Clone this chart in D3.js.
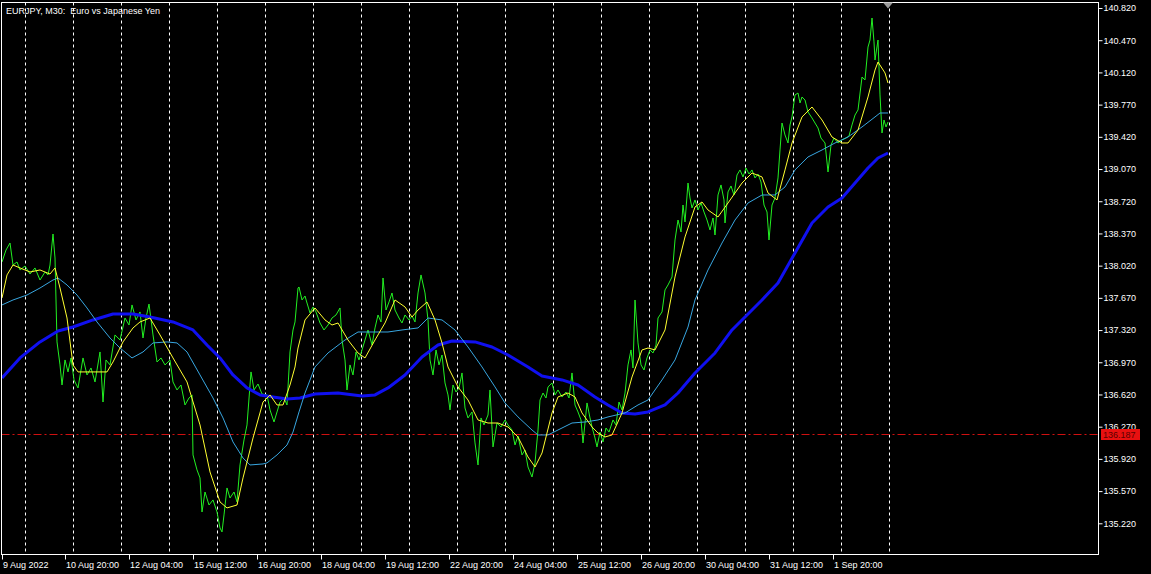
<!DOCTYPE html>
<html><head><meta charset="utf-8">
<script src="https://cdn.jsdelivr.net/npm/d3@7"></script>
<style>html,body{margin:0;padding:0;background:#000;overflow:hidden}</style>
</head><body><svg id="c" width="1151" height="574"></svg>
<script>
const title = "EURJPY, M30:  Euro vs Japanese Yen";
// bar index (M30 bars, 1 px each) and close price
const priceBars = [2,6,10,13,17,20,25,30,35,40,45,48,50,53,55,57,60,62,65,68,71,74,78,81,83,87,91,95,100,103,106,110,115,120,125,129,132,136,140,143,146,149,153,157,161,165,170,173,177,181,185,189,192,193,197,200,202,205,209,213,217,220,222,224,227,230,234,237,240,244,247,251,254,258,262,267,270,274,277,280,284,287,290,293,295,298,299,302,305,307,310,313,316,320,324,328,332,336,340,342,345,347,350,353,356,359,362,365,368,372,375,378,381,383,386,389,392,395,399,402,405,409,412,415,418,421,425,428,430,433,436,439,442,445,448,450,453,456,459,462,465,468,472,475,478,481,484,488,490,493,497,501,505,508,512,515,518,522,525,528,532,535,538,540,543,546,548,552,555,558,562,566,569,572,575,578,581,583,587,590,592,595,597,600,603,606,609,613,616,619,622,625,628,631,633,635,638,641,644,647,650,653,656,658,662,665,668,672,675,678,681,683,685,688,690,692,695,698,701,704,707,710,713,715,718,721,724,725,728,731,734,737,740,743,746,749,752,755,758,761,764,767,769,772,775,778,780,782,785,788,790,792,795,798,800,802,805,808,812,815,818,821,825,828,831,834,838,842,846,849,852,855,858,862,865,868,870,872,874,875,878,880,882,884,886,888];
const priceValues = [138.060,138.190,138.266,138.027,138.060,137.973,138.016,137.929,137.995,137.864,137.951,137.919,138.027,138.364,138.103,137.191,136.941,136.723,136.995,136.865,137.017,136.778,136.691,136.886,137.017,136.832,136.908,136.756,137.082,136.538,136.995,136.941,137.267,137.212,137.451,137.375,137.593,137.430,137.517,137.234,137.451,137.603,137.267,136.973,137.017,136.941,136.995,136.756,136.669,136.723,136.506,136.582,136.615,135.963,135.800,135.713,135.343,135.560,135.419,135.474,135.343,135.169,135.126,135.311,135.604,135.495,135.560,135.452,135.854,136.126,136.289,136.865,136.669,136.734,136.625,136.615,136.452,136.321,136.430,136.538,136.582,136.506,137.082,137.321,137.408,137.777,137.788,137.647,137.690,137.614,137.506,137.571,137.517,137.397,137.321,137.375,137.451,137.484,137.560,137.212,136.995,136.669,136.941,136.832,137.082,136.995,137.104,137.212,137.321,137.158,137.343,137.484,137.408,137.886,137.538,137.625,137.723,137.538,137.451,137.397,137.484,137.430,137.473,137.408,137.723,137.919,137.723,137.430,136.995,136.832,137.104,136.941,137.049,136.745,136.615,136.452,136.723,136.647,136.691,136.854,136.473,136.365,136.430,136.093,135.854,136.365,136.289,136.397,136.669,136.050,136.310,136.267,136.343,136.289,136.234,136.071,136.169,135.963,136.017,135.832,135.723,135.876,136.234,136.560,136.636,136.582,136.702,136.745,136.615,136.669,136.593,136.647,136.582,136.854,136.506,136.430,136.343,136.093,136.528,136.365,136.267,136.147,136.050,136.212,136.104,136.256,136.212,136.343,136.289,136.538,136.452,136.636,136.941,137.104,136.908,137.647,137.180,136.941,136.886,137.017,137.104,137.071,137.158,137.451,137.517,137.756,137.810,137.897,138.299,138.516,138.386,138.679,138.495,138.918,138.755,138.647,138.734,138.625,138.701,138.603,138.516,138.408,138.538,138.353,138.788,138.897,138.734,138.484,138.821,138.886,138.788,139.005,139.060,138.984,139.081,139.016,139.060,138.973,139.016,138.929,138.679,138.603,138.299,138.679,138.755,138.973,139.277,139.570,139.440,139.353,139.549,139.636,139.875,139.896,139.788,139.853,139.820,139.690,139.625,139.570,139.516,139.407,139.353,139.038,139.331,139.407,139.353,139.386,139.407,139.429,139.549,139.657,139.712,140.070,140.038,140.396,140.472,140.711,140.451,140.255,140.472,139.875,139.462,139.603,139.527,139.581];
// fast moving average (yellow)
const fastBars = [2,7,13,20,30,40,50,55,60,67,73,78,87,100,107,113,123,133,140,150,160,173,187,200,210,220,227,237,243,253,263,270,277,283,290,295,298,305,315,325,332,338,348,358,365,375,385,395,405,412,418,427,435,442,448,458,468,478,488,498,508,518,528,535,542,552,558,568,575,582,592,598,605,612,622,632,642,648,655,665,675,685,695,702,708,718,728,742,752,762,768,777,785,792,802,812,822,832,842,848,858,868,875,878,885,888];
const fastValues = [137.669,137.919,138.027,137.995,137.951,137.973,137.929,137.995,137.777,137.451,136.941,136.865,136.865,136.865,136.865,136.973,137.191,137.343,137.408,137.451,137.267,137.017,136.756,136.289,135.778,135.452,135.387,135.419,135.713,136.147,136.538,136.615,136.506,136.506,136.723,136.919,137.125,137.430,137.560,137.430,137.375,137.397,137.212,137.071,137.017,137.212,137.397,137.647,137.571,137.462,137.538,137.625,137.430,137.180,136.919,136.702,136.560,136.343,136.310,136.310,136.267,136.158,135.941,135.832,135.984,136.419,136.593,136.636,136.593,136.419,136.267,136.202,136.158,136.180,136.419,136.810,137.104,137.125,137.104,137.321,137.897,138.332,138.658,138.712,138.625,138.549,138.701,138.918,139.027,138.984,138.810,138.734,139.060,139.353,139.636,139.744,139.603,139.418,139.353,139.353,139.494,139.853,140.146,140.233,140.114,140.005];
// medium moving average (light blue)
const midBars = [2,13,27,40,53,58,67,77,87,97,110,120,132,143,153,167,177,187,200,213,223,233,243,250,263,267,277,287,293,299,305,315,328,345,358,375,388,402,418,428,442,455,468,482,495,505,518,532,538,548,558,572,585,598,608,625,638,648,662,675,688,695,708,722,735,748,762,775,785,795,808,822,835,848,862,875,880,888];
const midValues = [137.593,137.647,137.701,137.777,137.864,137.886,137.810,137.701,137.560,137.408,137.234,137.125,137.017,137.082,137.180,137.191,137.180,137.082,136.832,136.582,136.365,136.104,135.930,135.854,135.865,135.876,135.963,136.071,136.212,136.430,136.636,136.919,137.071,137.212,137.299,137.299,137.299,137.321,137.343,137.451,137.430,137.321,137.136,136.919,136.702,136.528,136.376,136.234,136.180,136.180,136.234,136.310,136.321,136.343,136.376,136.419,136.506,136.560,136.778,136.995,137.353,137.647,137.973,138.266,138.516,138.701,138.788,138.788,138.875,139.060,139.201,139.277,139.353,139.418,139.527,139.636,139.679,139.679];
// slow moving average (thick blue)
const slowBars = [2,20,40,58,73,93,113,133,150,173,193,207,220,233,247,260,273,287,300,315,338,362,375,388,405,422,438,452,475,492,508,528,542,562,578,595,608,622,635,648,665,678,695,715,732,745,762,778,795,812,828,842,855,868,878,888];
const slowValues = [136.799,137.017,137.191,137.310,137.353,137.430,137.495,137.495,137.462,137.408,137.321,137.158,137.017,136.832,136.691,136.615,136.593,136.571,136.582,136.625,136.636,136.604,136.615,136.691,136.832,137.028,137.158,137.201,137.191,137.136,137.049,136.919,136.821,136.778,136.723,136.593,136.506,136.419,136.408,136.430,136.506,136.636,136.854,137.071,137.321,137.462,137.647,137.832,138.158,138.484,138.658,138.755,138.918,139.081,139.190,139.244];
const priceTicks = [140.820,140.470,140.120,139.770,139.420,139.070,138.720,138.370,138.020,137.670,137.320,136.970,136.620,136.270,135.920,135.570,135.220];
const timeTickBars = [2,65,129,193,257,321,385,449,513,577,641,705,769,833];
const timeTickLabels = ["9 Aug 2022","10 Aug 20:00","12 Aug 04:00","15 Aug 12:00","16 Aug 20:00","18 Aug 04:00","19 Aug 12:00","22 Aug 20:00","24 Aug 04:00","25 Aug 12:00","26 Aug 20:00","30 Aug 04:00","31 Aug 12:00","1 Sep 20:00"];
const dayGridBars = [25,73,121,169,217,265,313,361,409,457,505,553,601,649,697,745,793,841,889];
const bidPrice = 136.187;
const lastBar = 888;

const svg = d3.select("#c");
const W = 1151, H = 574;
const L = 1.5, T = 2.5, R = 1098.5, B = 554.5;
const FONT = "Liberation Sans, Arial, sans-serif";

svg.append("rect").attr("width", W).attr("height", H).attr("fill", "#000");

const x = d3.scaleLinear().domain([0, 1097]).range([0, 1097]);
const y = d3.scaleLinear().domain([135.22, 140.82]).range([523.3, 8]);

svg.append("defs").append("clipPath").attr("id", "plot")
  .append("rect").attr("x", L).attr("y", T).attr("width", R - L).attr("height", B - T);

const g = svg.append("g").attr("clip-path", "url(#plot)");

// day separators
g.selectAll("line.grid").data(dayGridBars).enter().append("line")
  .attr("x1", d => Math.round(x(d)) + 0.5).attr("x2", d => Math.round(x(d)) + 0.5)
  .attr("y1", T).attr("y2", B)
  .attr("stroke", "#fff").attr("stroke-width", 1).attr("stroke-dasharray", "3,3");

// bid line
g.append("line").attr("x1", L).attr("x2", R)
  .attr("y1", Math.round(y(bidPrice)) + 0.5).attr("y2", Math.round(y(bidPrice)) + 0.5)
  .attr("stroke", "#d01010").attr("stroke-width", 1).attr("stroke-dasharray", "8,3,2,3");

function series(bars, vals, color, width) {
  const pts = bars.map((b, i) => [b, vals[i]]);
  g.append("path").datum(pts)
    .attr("d", d3.line().x(d => x(d[0])).y(d => y(d[1])))
    .attr("fill", "none").attr("stroke", color).attr("stroke-width", width)
    .attr("stroke-linejoin", "round");
}
series(priceBars, priceValues, "#22f022", 1);
series(slowBars, slowValues, "#1010f0", 3);
series(midBars, midValues, "#38a6e0", 1);
series(fastBars, fastValues, "#ffff30", 1);

// frame
svg.append("rect").attr("x", L).attr("y", T).attr("width", R - L).attr("height", B - T)
  .attr("fill", "none").attr("stroke", "#fff").attr("stroke-width", 1);

// last-bar marker
const mx = x(lastBar);
svg.append("path").attr("d", `M${mx - 5},${T} L${mx + 5},${T} L${mx},${T + 6} Z`).attr("fill", "#9a9a9a");

// price axis
const ay = svg.append("g").attr("transform", `translate(${R},0)`)
  .call(d3.axisRight(y).tickValues(priceTicks).tickSize(4).tickPadding(1).tickFormat(d3.format(".3f")));
ay.select(".domain").remove();
ay.selectAll("line").attr("stroke", "#fff");
ay.selectAll("text").attr("fill", "#fff").attr("font-family", FONT).attr("font-size", 9);

// time axis
const ax = svg.append("g").attr("transform", `translate(0,${B})`)
  .call(d3.axisBottom(x).tickValues(timeTickBars).tickSize(5).tickFormat((d, i) => timeTickLabels[i]));
ax.select(".domain").remove();
ax.selectAll("line").attr("stroke", "#fff");
ax.selectAll("text").attr("fill", "#fff").attr("font-family", FONT).attr("font-size", 9)
  .attr("text-anchor", "start").attr("x", 0.5).attr("y", 13).attr("dy", 0);

// bid label
const by = y(bidPrice);
svg.append("rect").attr("x", 1101).attr("y", Math.round(by) - 5).attr("width", 39).attr("height", 11).attr("fill", "#e81010");
svg.append("text").attr("x", 1103).attr("y", Math.round(by) + 3.5).text(d3.format(".3f")(bidPrice))
  .attr("fill", "#5a0000").attr("font-family", FONT).attr("font-size", 9);

// title
svg.append("text").attr("x", 6).attr("y", 13.5).text(title)
  .attr("fill", "#fff").attr("font-family", FONT).attr("font-size", 9).style("white-space", "pre");
</script>
</body></html>
